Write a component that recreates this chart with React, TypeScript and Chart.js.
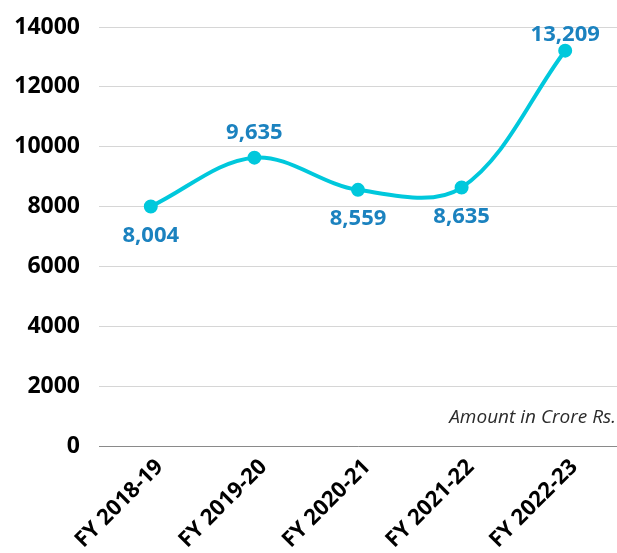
import React, { useEffect, useRef } from "react";
import { Chart, registerables } from "chart.js";

Chart.register(...registerables);

const categories = ["FY 2018-19", "FY 2019-20", "FY 2020-21", "FY 2021-22", "FY 2022-23"];
const amounts = [8004, 9635, 8559, 8635, 13209];
const valueLabels = ["8,004", "9,635", "8,559", "8,635", "13,209"];
const labelAbove = [false, true, false, false, true];
const yTicks = [0, 2000, 4000, 6000, 8000, 10000, 12000, 14000];
const note = "Amount in Crore Rs.";

const FONT = "'Open Sans', 'DejaVu Sans', sans-serif";

const labelPlugin = {
  id: "valueLabels",
  afterDatasetsDraw(chart: any) {
    const { ctx, chartArea } = chart;
    const meta = chart.getDatasetMeta(0);
    ctx.save();
    ctx.font = `bold 22px ${FONT}`;
    ctx.fillStyle = "#1b82bf";
    ctx.textAlign = "center";
    ctx.textBaseline = "middle";
    meta.data.forEach((pt: any, i: number) => {
      const dy = labelAbove[i] ? (i === amounts.length - 1 ? -16 : -25) : 29;
      ctx.fillText(valueLabels[i], pt.x, pt.y + dy);
    });
    ctx.font = `italic 19px ${FONT}`;
    ctx.fillStyle = "#2b2b2b";
    ctx.textAlign = "right";
    ctx.fillText(note, chartArea.right - 1, chartArea.bottom - 28);
    ctx.restore();
  },
};

export default function App() {
  const ref = useRef<HTMLCanvasElement>(null);
  useEffect(() => {
    if (!ref.current) return;
    const chart = new Chart(ref.current, {
      type: "line",
      data: {
        labels: categories,
        datasets: [
          {
            data: amounts,
            borderColor: "#00c8dc",
            backgroundColor: "#00c8dc",
            borderWidth: 4,
            pointRadius: 5,
            pointHoverRadius: 5,
            tension: 0.35,
            fill: false,
          },
        ],
      },
      options: {
        animation: false,
        responsive: false,
        layout: { autoPadding: false, padding: { top: 19, left: 0, right: 0, bottom: 0 } },
        plugins: { legend: { display: false }, tooltip: { enabled: false } },
        scales: {
          x: {
            offset: true,
            grid: { display: false, drawTicks: false },
            border: { display: true, color: "#8a8a8a", width: 1 },
            ticks: {
              minRotation: 45,
              maxRotation: 45,
              padding: 8,
              labelOffset: 9,
              color: "#000",
              font: { family: FONT, size: 22, weight: "bold" },
            },
            afterFit: (s: any) => {
              s.height = 107;
              s.paddingRight = 0;
              s.paddingLeft = 0;
            },
          },
          y: {
            min: 0,
            max: 14000,
            afterBuildTicks: (s: any) => {
              s.ticks = yTicks.map((v) => ({ value: v }));
            },
            grid: { color: "#d6d6d6", drawTicks: false },
            border: { display: false },
            ticks: {
              padding: 19,
              color: "#000",
              callback: (v: any) => String(v),
              font: { family: FONT, size: 23, weight: "bold" },
            },
            afterFit: (s: any) => {
              s.width = 91;
              s.paddingTop = 0;
              s.paddingBottom = 0;
            },
          },
        },
      },
      plugins: [labelPlugin],
    });
    return () => chart.destroy();
  }, []);
  return (
    <canvas
      ref={ref}
      width={609}
      height={545}
      style={{ display: "block", position: "fixed", left: 8, top: 8 }}
    />
  );
}
